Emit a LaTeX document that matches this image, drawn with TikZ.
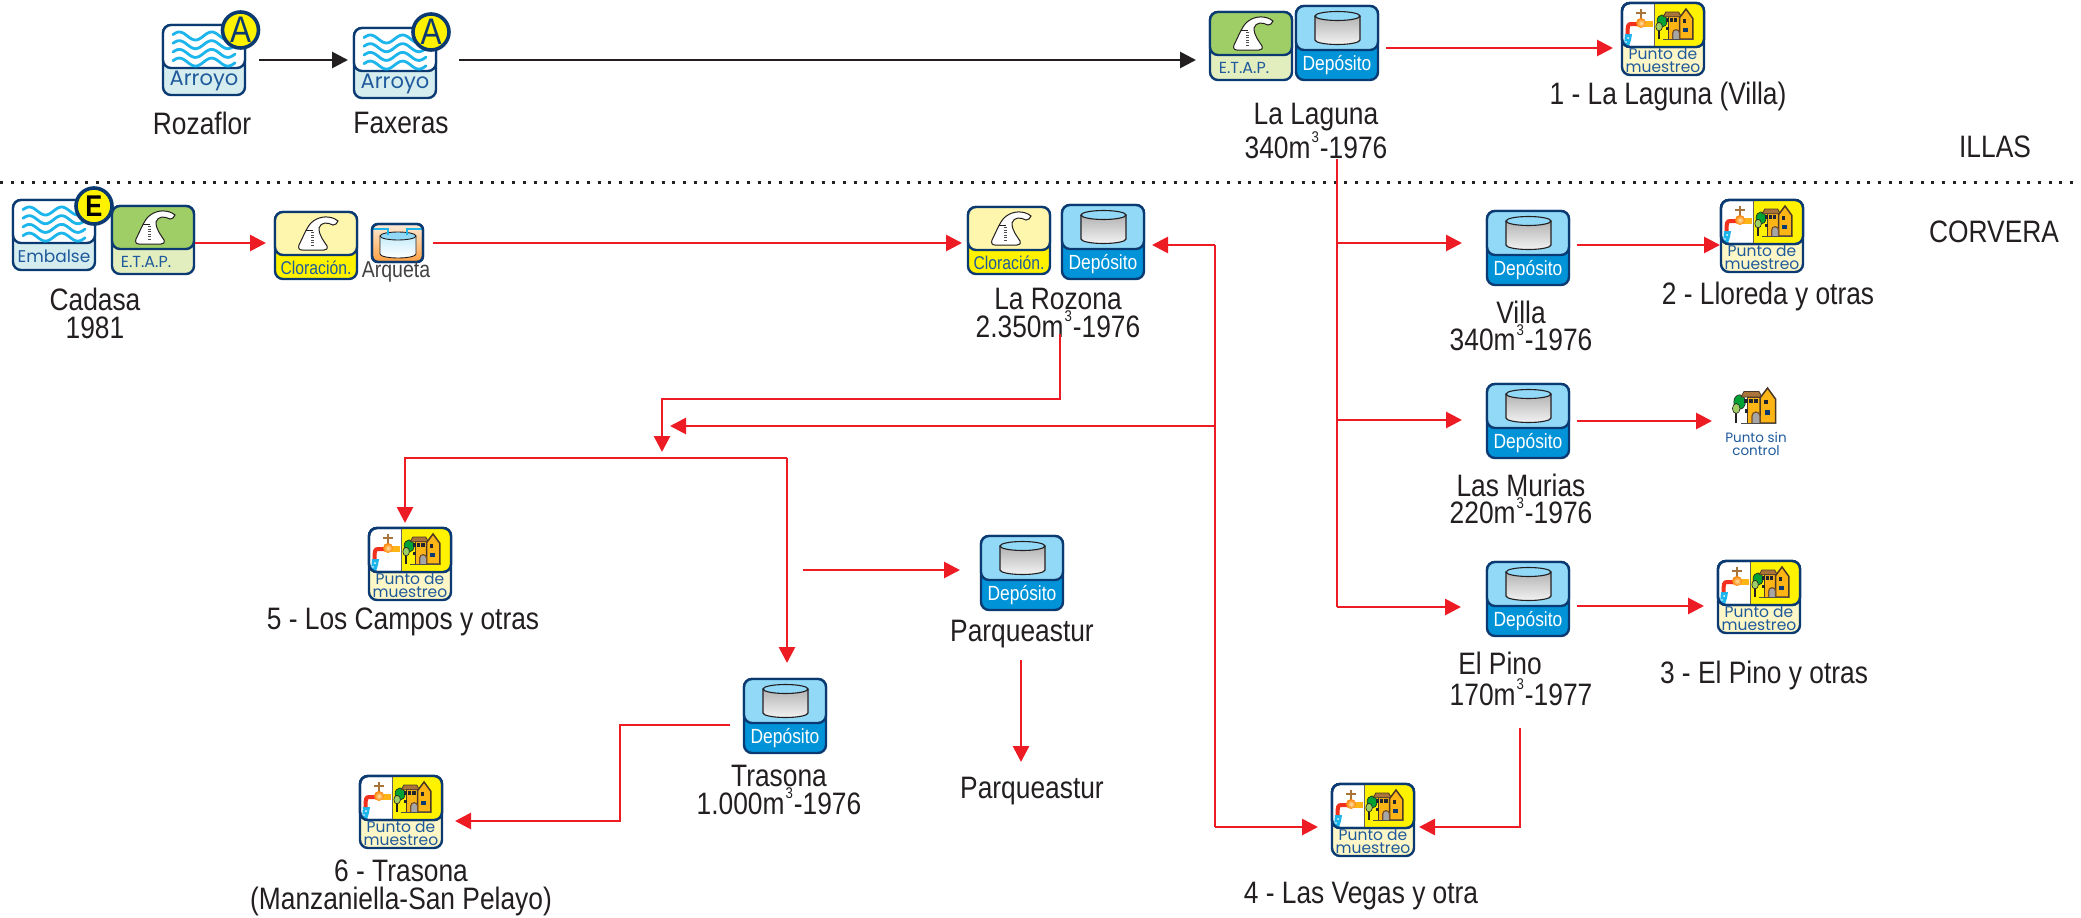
\documentclass[tikz,border=0pt]{standalone}
\usepackage{fontspec}
\setmainfont[FakeStretch=0.85]{Liberation Sans}
\newfontfamily\iconfont{Poppins}
\usetikzlibrary{arrows.meta,calc}
\definecolor{navy}{HTML}{0B3A72}
\definecolor{inkblue}{HTML}{1F5A9C}
\definecolor{redline}{HTML}{ED1C24}
\definecolor{inkblack}{HTML}{231F20}
\definecolor{wavecyan}{HTML}{1CB5EC}
\definecolor{palecyan}{HTML}{D6EDF0}
\definecolor{etapgreen}{HTML}{9FCE67}
\definecolor{etappale}{HTML}{E3EEBF}
\definecolor{clorpale}{HTML}{FEF6AC}
\definecolor{clorbright}{HTML}{FFF200}
\definecolor{depsky}{HTML}{92D9F8}
\definecolor{depblue}{HTML}{0093D8}
\definecolor{puntopale}{HTML}{FDF6C6}
\definecolor{houseorange}{HTML}{FDB515}
\definecolor{roofbrown}{HTML}{A9743A}
\newcommand{\cubic}{m\kern1pt\raisebox{15.5pt}{\fontsize{15.5}{15.5}\selectfont 3}\kern1pt}
\tikzset{
  panel/.style={rounded corners=8pt,draw=navy,line width=2.4pt,inner sep=0pt,outer sep=0pt},
  lab/.style={text=inkblack,font=\fontsize{31}{27.5}\selectfont,align=center,inner sep=0pt},
  redarrow/.style={draw=redline,line width=2.8pt,-{Triangle[length=16pt,width=16pt]}},
  redplain/.style={draw=redline,line width=2.8pt},
  blackarrow/.style={draw=inkblack,line width=2.8pt,-{Triangle[length=16pt,width=16pt]}},
  badge/.style={circle,fill=clorbright,draw=navy,line width=3.6pt,minimum size=36pt,inner sep=0pt},
}
% panel: name, left, top, right, bottom, divider y, top colour, bottom colour
\newcommand{\Panel}[8]{%
  \node[panel,fill=#8,anchor=north west,minimum width=#4pt-#2pt,minimum height=#5pt-#3pt] (#1) at (#2,#3) {};
  \path[panel,fill=#7] (#2,#3) rectangle (#4,#6);
}
\newcommand{\Waves}[2]{%
  \begin{scope}[shift={(#1,#2)}]
    \foreach \r in {0,1,2,3}
      \draw[wavecyan,line width=2.8pt,line cap=round] plot[domain=0:690,samples=46] ({\x/690*62},{8.7*\r+3-4*sin(\x+20)});
  \end{scope}}
\newcommand{\Flask}[2]{%
  \begin{scope}[shift={(#1,#2)}]
    \draw[fill=white,draw=inkblack,line width=1pt] (24,33) .. controls (28,25) and (32,15) .. (36,11) .. controls (42,5) and (52,3) .. (60,7) -- (63,9) -- (61,12) -- (58,13) .. controls (52,10) and (46,10) .. (44,16) .. controls (44,24) and (49,29) .. (52,34) .. controls (53,37) and (51,38) .. (49,38) -- (27,38) .. controls (24,38) and (23,36) .. (24,33) -- cycle;
    \draw[inkblack,line width=0.9pt] (31,18) -- (38,18);
    \draw[inkblack!80,line width=3pt,dash pattern=on 1pt off 1.6pt] (37,20) -- (37,35);
  \end{scope}}
\newcommand{\Tank}[2]{%
  \begin{scope}[shift={(#1,#2)}]
    \path[top color=black!30,bottom color=black!5] (0,5) -- (0,29) arc[start angle=180,end angle=0,x radius=22.5,y radius=4.5] -- (45,5) -- cycle;
    \draw[inkblack,line width=1.1pt] (0,5) -- (0,29) arc[start angle=180,end angle=0,x radius=22.5,y radius=4.5] -- (45,5);
    \draw[inkblack,line width=1.1pt,fill=depsky] (22.5,5) ellipse[x radius=22.5,y radius=4.5];
  \end{scope}}
\newcommand{\House}[2]{%
  \begin{scope}[shift={(#1,#2)}]
    \draw[inkblack,line width=1.6pt] (4,24) -- (4,36);
    \draw[fill=green!55!black!80!cyan,draw=inkblack,line width=.6pt] (7.6,15) ellipse[x radius=5.8,y radius=7.2];
    \draw[fill=etapgreen,draw=inkblack,line width=.6pt] (4.2,21.5) ellipse[x radius=3.8,y radius=5];
    \draw[fill=houseorange,draw=inkblack!70!roofbrown,line width=1pt] (15,10) rectangle (30,36);
    \draw[fill=roofbrown,draw=inkblack!70!roofbrown,line width=.8pt] (12,4.5) -- (27,4.5) -- (30,10) -- (9,10) -- cycle;
    \draw[fill=houseorange,draw=inkblack!70!roofbrown,line width=1.5pt] (28,36) -- (28,11) -- (35.5,1) -- (43.5,12) -- (43.5,36) -- cycle;
    \foreach \a in {12,17,22} \fill[inkblack!80!navy] (\a,12) rectangle +(3.6,3.6);
    \fill[inkblack!80!navy] (12.5,22) rectangle +(3.6,3.6);
    \fill[inkblack!80!navy] (32,13) rectangle +(4,4);
    \fill[navy] (32.5,23) rectangle +(5,5);
    \draw[fill=black!35,draw=roofbrown!70!black,line width=1.2pt] (20,36) -- (20,29) arc[start angle=180,end angle=360,radius=4] -- (28,36);
    \draw[inkblack!80,line width=1pt] (9,36) -- (44,36);
  \end{scope}}
\newcommand{\Faucet}[2]{%
  \begin{scope}[shift={(#1,#2)}]
    \fill[wavecyan] (3,31) -- (10,31) -- (9,37) -- (7,43) -- (2,43) -- cycle;
    \fill[white] (6,35) circle (1) (4,39) circle (.8);
    \draw[roofbrown,line width=2.4pt] (14,10) -- (24,10) (19,6) -- (19,17);
    \fill[houseorange] (20,17.5) rectangle (31,23.5);
    \draw[redline!80!orange,line width=4pt] (16,21) -- (9,21) .. controls (6,21) and (5.5,23) .. (5.5,31);
    \shade[inner color=white!60!houseorange,outer color=orange] (19,20) circle (5);
  \end{scope}}
\newcommand{\Punto}[3]{% name, left, top
  \Panel{#1}{#2}{#3}{#2+82}{#3+72}{#3+44}{white}{puntopale}
  \begin{scope}
    \clip[rounded corners=7pt] (#2+1,#3+1) rectangle (#2+81,#3+43);
    \fill[clorbright] (#2+32,#3) rectangle (#2+82,#3+44);
  \end{scope}
  \draw[inkblack!70,line width=1pt] (#2+32,#3+1) -- (#2+32,#3+43);
  \Faucet{#2}{#3}
  \begin{scope}[scale=.86,shift={(#2/.86+39,#3/.86+6)}]\House{0}{0}\end{scope}
  \path[panel,draw=navy] (#2,#3) [rounded corners=8pt] rectangle (#2+82,#3+44);
  \node[inner sep=0pt,align=center,text=inkblue,font=\iconfont\fontsize{15.5}{13}\selectfont] (#1t) at (#2+41,#3+57) {Punto de\\muestreo};
}
\newcommand{\Deposito}[3]{%
  \Panel{#1}{#2}{#3}{#2+82}{#3+74}{#3+44}{depsky}{depblue}
  \Tank{#2+19}{#3+5}
  \node[inner sep=0pt,text=white,font=\fontsize{20.5}{21}\selectfont] (#1t) at (#2+41,#3+59) {Depósito};
}
\newcommand{\Etap}[3]{%
  \Panel{#1}{#2}{#3}{#2+82}{#3+68}{#3+43}{etapgreen}{etappale}
  \Flask{#2}{#3}
  \node[inner sep=0pt,text=inkblue,font=\iconfont\fontsize{16}{16}\selectfont] (#1t) at (#2+34,#3+56) {E.T.A.P.};
}
\newcommand{\Clor}[3]{%
  \Panel{#1}{#2}{#3}{#2+82}{#3+67}{#3+43}{clorpale}{clorbright}
  \Flask{#2}{#3}
  \node[inner sep=0pt,text=inkblue,font=\fontsize{18.5}{19}\selectfont] (#1t) at (#2+41,#3+56) {Cloración.};
}
\newcommand{\Arroyo}[6]{% name left top word divider-offset fontsize
  \Panel{#1}{#2}{#3}{#2+82}{#3+70}{#3+#5}{white}{palecyan}
  \Waves{#2+10}{#3+8}
  \node[inner sep=0pt,text=inkblue,font=\iconfont\fontsize{#6}{#6}\selectfont] (#1t) at (#2+41,#3+#5+13) {#4};
}
\begin{document}
\begin{tikzpicture}[x=1pt,y=-1pt]
\useasboundingbox (0,0) rectangle (2081,918);
\fill[white] (0,0) rectangle (2081,918);
% separator
\coordinate (sepL) at (0,182);
\coordinate (sepR) at (2081,182);
\draw[inkblack,line width=3pt,dash pattern=on 3pt off 7.67pt] (sepL) -- (sepR);
\node[lab] (illas) at (1995,147) {ILLAS};
\node[lab] (corvera) at (1994,232) {CORVERA};
% top row
\Arroyo{roza}{163}{25}{Arroyo}{43}{21}
\node[badge] (rozaB) at (240.5,30) {};
\node[text=navy,inner sep=0pt,font=\fontsize{37}{37}\selectfont] at (rozaB) {A};
\Arroyo{faxe}{354}{28}{Arroyo}{43}{21}
\node[badge] (faxeB) at (431,32) {};
\node[text=navy,inner sep=0pt,font=\fontsize{37}{37}\selectfont] at (faxeB) {A};
\node[lab] (rozaL) at (202,123) {Rozaflor};
\node[lab] (faxeL) at (401,123) {Faxeras};
\Etap{etapL}{1210}{12}
\Deposito{depL}{1296}{6}
\node[lab] (lagL) at (1316,131) {La Laguna\\340\cubic-1976};
\Punto{p1}{1622}{3}
\node[lab] (p1L) at (1668,96) {1 - La Laguna (Villa)};
% Cadasa
\Arroyo{emb}{13}{200}{Embalse}{43}{17}
\node[badge] (embB) at (94,206) {};
\node[text=black,inner sep=0pt,font=\bfseries\fontsize{30}{30}\selectfont] at (embB) {E};
\Etap{etapC}{112}{206}
\node[lab] (cadL) at (95,313.5) {Cadasa\\1981};
\Clor{clor1}{275}{212}
% Arqueta
\node[panel,rounded corners=6pt,minimum width=51pt,minimum height=38pt,anchor=north west,top color=orange!15,bottom color=orange!75] (arq) at (372,224) {};
\begin{scope}[shift={(372,224)}]
  \path[top color=wavecyan!25,bottom color=white] (8,12) -- (8,30) arc[start angle=180,end angle=0,x radius=18,y radius=4] -- (44,12) -- cycle;
  \draw[inkblack,line width=.9pt] (8,12) -- (8,30) arc[start angle=180,end angle=0,x radius=18,y radius=4] -- (44,12);
  \draw[inkblack,line width=.9pt,fill=depsky] (26,12) ellipse[x radius=18,y radius=4];
  \draw[wavecyan,line width=2.6pt] (1,5) -- (16,5) -- (16,11) (50,5) -- (35,5) -- (35,11);
\end{scope}
\path[panel,rounded corners=6pt] (372,224) rectangle (423,262);
\node[lab,font=\fontsize{23}{23}\selectfont,text=inkblack!85] (arqL) at (396,272) {Arqueta};
% La Rozona
\Clor{clor2}{968}{207}
\Deposito{depR}{1062}{205}
\node[lab] (rozL) at (1058,313) {La Rozona\\2.350\cubic-1976};
% Villa etc
\Deposito{depV}{1487}{211}
\node[lab] (depVL) at (1521,326) {Villa\\340\cubic-1976};
\Punto{p2}{1721}{200}
\node[lab] (p2L) at (1768,296) {2 - Lloreda y otras};
\Deposito{depM}{1487}{384}
\node[lab] (depML) at (1521,499) {Las Murias\\220\cubic-1976};
\node[inner sep=0pt,minimum width=44pt,minimum height=36pt,anchor=north west] (psc) at (1732,387) {};
\House{1732}{387}
\node[inner sep=0pt,align=center,text=inkblue,font=\iconfont\fontsize{13.5}{12.5}\selectfont] (pscL) at (1756,444) {Punto sin\\control};
\Deposito{depP}{1487}{562}
\node[lab] (depPL) at (1500,663) {El Pino};
\node[lab] (depPM) at (1521,692) {170\cubic-1977};
\Punto{p3}{1718}{561}
\node[lab] (p3L) at (1764,675) {3 - El Pino y otras};
\Punto{p4}{1332}{784}
\node[lab] (p4L) at (1361,896) {4 - Las Vegas y otra};
\Punto{p5}{369}{528}
\node[lab] (p5L) at (403,622) {5 - Los Campos y otras};
\Deposito{depA}{981}{536}
\node[lab] (depAL) at (1022,634) {Parqueastur};
\node[lab] (parq) at (1032,791) {Parqueastur};
\Deposito{depT}{744}{679}
\node[lab] (depTL) at (779,790) {Trasona\\1.000\cubic-1976};
\Punto{p6}{360}{776}
\node[lab] (p6L) at (401,888) {6 - Trasona\\(Manzaniella-San Pelayo)};
% junction coordinates
\coordinate (lagTop) at (1337,159);
\coordinate (lagJ1) at (1337,243);
\coordinate (lagJ2) at (1337,420);
\coordinate (lagJ3) at (1337,607);
\coordinate (eastJ) at (1215,426);
\coordinate (eastT) at (1215,245);
\coordinate (eastB) at (1215,827);
\coordinate (rozOut) at (1060,334);
\coordinate (rozK) at (1060,399);
\coordinate (westK) at (662,399);
\coordinate (westT) at (662,452);
\coordinate (westTip) at (670,426);
\coordinate (splitL) at (405,458);
\coordinate (splitR) at (787,458);
\coordinate (parqIn) at (803,570);
\coordinate (parqT) at (1021,660);
\coordinate (parqB) at (1021,762);
\coordinate (trasOut) at (730,725);
\coordinate (trasK1) at (620,725);
\coordinate (trasK2) at (620,821);
\coordinate (pinoOut) at (1520,728);
\coordinate (pinoK) at (1520,827);
% connectors
\draw[blackarrow] ([shift={(14,0)}]roza.east) -- ([shift={(-6,-3)}]faxe.west);
\draw[blackarrow] ([shift={(23,-3)}]faxe.west -| faxe.east) -- ([shift={(-14,-3)}]faxe.west -| etapL.west);
\draw[redarrow] ([shift={(8,5)}]depL.east) -- ([shift={(-9,5)}]depL.east -| p1.west);
\draw[redarrow] ([shift={(1,3)}]etapC.east) -- ([shift={(-9,3)}]etapC.east -| clor1.west);
\draw[redarrow] ([shift={(10,0)}]arq.east) -- ([shift={(-6,0)}]arq.east -| clor2.west);
\draw[redarrow] (eastT) -- ([shift={(8,3)}]depR.east);
\draw[redplain] (eastT) -- (eastB);
\draw[redarrow] (eastB) -- ([shift={(-14,0)}]eastB -| p4.west);
\draw[redarrow] (eastJ) -- (westTip);
\draw[redarrow] (rozOut) -- (rozK) -- (westK) -- (westT);
\draw[redarrow] (splitR) -- (splitL) -- ([shift={(0,-5)}]splitL |- p5.north);
\draw[redarrow] (splitR) -- ([shift={(0,-16)}]splitR |- depT.north);
\draw[redarrow] (parqIn) -- ([shift={(-21,0)}]parqIn -| depA.west);
\draw[redarrow] (parqT) -- (parqB);
\draw[redarrow] (trasOut) -- (trasK1) -- (trasK2) -- ([shift={(13,0)}]trasK2 -| p6.east);
\draw[redplain] (lagTop) -- (lagJ3);
\draw[redarrow] (lagJ1) -- ([shift={(-25,0)}]lagJ1 -| depV.west);
\draw[redarrow] (lagJ2) -- ([shift={(-25,0)}]lagJ2 -| depM.west);
\draw[redarrow] (lagJ3) -- ([shift={(-26,0)}]lagJ3 -| depP.west);
\draw[redarrow] ([shift={(8,-3)}]depV.east) -- ([shift={(-1,-3)}]depV.east -| p2.west);
\draw[redarrow] ([shift={(8,0)}]depM.east) -- ([shift={(-20,0)}]depM.east -| psc.west);
\draw[redarrow] ([shift={(8,7)}]depP.east) -- ([shift={(-14,7)}]depP.east -| p3.west);
\draw[redarrow] (pinoOut) -- (pinoK) -- ([shift={(5,0)}]pinoK -| p4.east);
\end{tikzpicture}
\end{document}
